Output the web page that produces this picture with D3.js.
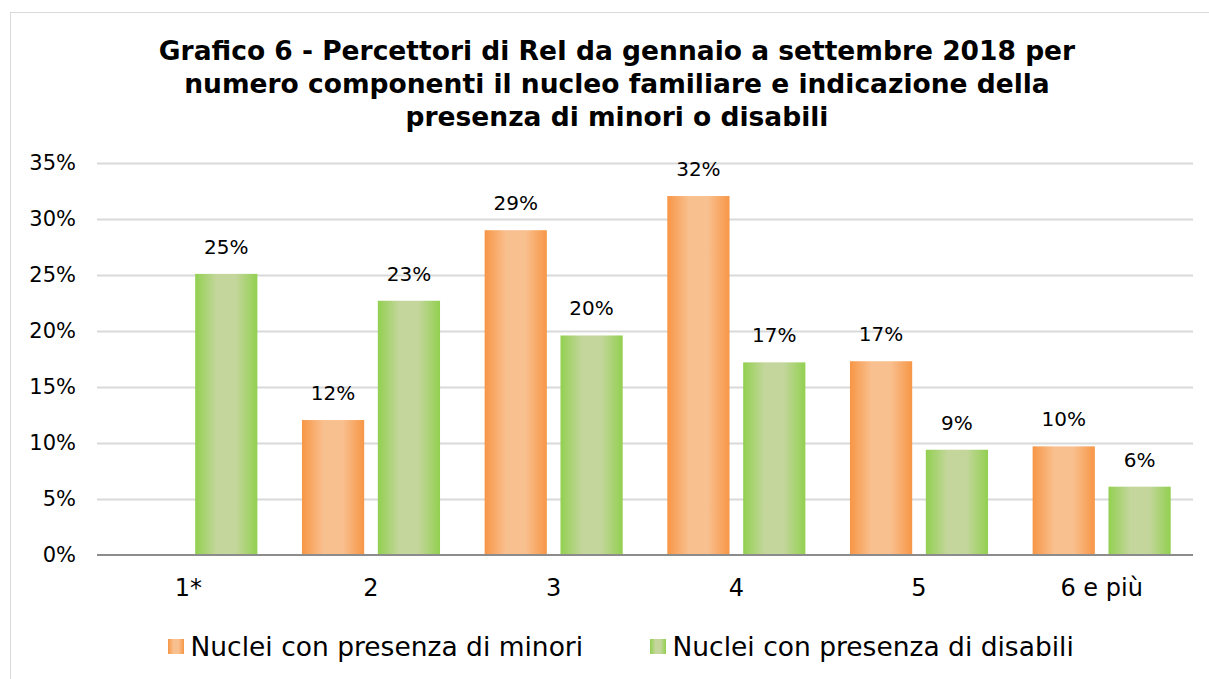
<!DOCTYPE html>
<html>
<head>
<meta charset="utf-8">
<script src="https://cdn.jsdelivr.net/npm/d3@7"></script>
<style>
  html, body { margin: 0; padding: 0; background: #fff; }
  svg { display: block; font-family: "DejaVu Sans", Verdana, sans-serif; }
</style>
</head>
<body>
<div id="chart"></div>
<script>
/* ---------- Data ---------- */
const categories = ["1*", "2", "3", "4", "5", "6 e più"];
const minori   = [null, 12.05, 29.0, 32.05, 17.3, 9.7];
const disabili = [25.1, 22.7, 19.6, 17.2, 9.4, 6.1];
const yTicks = [0, 5, 10, 15, 20, 25, 30, 35];
const seriesNames = ["Nuclei con presenza di minori", "Nuclei con presenza di disabili"];
const titleLines = [
  "Grafico 6 - Percettori di ReI da gennaio a settembre 2018 per",
  "numero componenti il nucleo familiare e indicazione della",
  "presenza di minori o disabili"
];

/* ---------- Setup ---------- */
const W = 1209, H = 679;
const plot = { left: 97, right: 1193, top: 163, bottom: 555 };

const svg = d3.select("#chart").append("svg")
  .attr("width", W).attr("height", H);

// gradients
const defs = svg.append("defs");
function addGrad(id, edge, mid) {
  const g = defs.append("linearGradient").attr("id", id)
    .attr("x1", "0%").attr("y1", "0%").attr("x2", "100%").attr("y2", "0%");
  g.append("stop").attr("offset", "0%").attr("stop-color", edge);
  g.append("stop").attr("offset", "35%").attr("stop-color", mid);
  g.append("stop").attr("offset", "65%").attr("stop-color", mid);
  g.append("stop").attr("offset", "100%").attr("stop-color", edge);
}
addGrad("gOrange", "#f79646", "#f9c08f");
addGrad("gGreen", "#92d050", "#c4d69c");
const fills = ["url(#gOrange)", "url(#gGreen)"];

// chart border
svg.append("rect")
  .attr("x", 10.5).attr("y", 12.5)
  .attr("width", W + 20).attr("height", H + 20)
  .attr("fill", "none").attr("stroke", "#d9d9d9").attr("stroke-width", 1);

// Title
svg.append("g").selectAll("text")
  .data(titleLines)
  .enter().append("text")
  .attr("x", 617)
  .attr("y", (d, i) => 60 + i * 33)
  .attr("text-anchor", "middle")
  .style("font-size", "26.5px")
  .style("font-weight", "bold")
  .style("fill", "#000")
  .text(d => d);

/* ---------- Scales ---------- */
const x0 = d3.scaleBand()
  .domain(categories)
  .range([plot.left, plot.right])
  .paddingInner(0).paddingOuter(0);

const x1 = d3.scaleBand()
  .domain([0, 1])
  .range([22.3, x0.bandwidth() - 22.3])
  .paddingInner(0.18);

const y = d3.scaleLinear()
  .domain([0, 35])
  .range([plot.bottom, plot.top]);

// Grid
svg.append("g")
  .attr("transform", `translate(${plot.left},0)`)
  .call(d3.axisLeft(y).tickValues(yTicks.slice(1)).tickSize(-(plot.right - plot.left)).tickFormat(""))
  .call(g => g.select(".domain").remove())
  .call(g => g.selectAll("line").attr("stroke", "#d9d9d9").attr("stroke-width", 2));

// Y axis labels
svg.append("g")
  .attr("transform", `translate(${plot.left},0)`)
  .call(d3.axisLeft(y).tickValues(yTicks).tickSize(0).tickPadding(21).tickFormat(d => d + "%"))
  .call(g => g.select(".domain").remove())
  .selectAll("text")
  .style("font-size", "21px")
  .style("font-family", "'DejaVu Sans', Verdana, sans-serif")
  .style("fill", "#000");

/* ---------- Bars ---------- */
const rows = categories.map((c, i) => ({ cat: c, vals: [minori[i], disabili[i]] }));

const groups = svg.append("g").selectAll("g")
  .data(rows)
  .enter().append("g")
  .attr("transform", d => `translate(${x0(d.cat)},0)`);

const cells = groups.selectAll("g")
  .data(d => d.vals.map((v, k) => ({ k, v })).filter(e => e.v != null))
  .enter().append("g");

cells.append("rect")
  .attr("x", d => x1(d.k))
  .attr("y", d => y(d.v))
  .attr("width", x1.bandwidth())
  .attr("height", d => plot.bottom - y(d.v))
  .attr("fill", d => fills[d.k]);

cells.append("text")
  .attr("x", d => x1(d.k) + x1.bandwidth() / 2)
  .attr("y", d => y(d.v) - 20)
  .attr("text-anchor", "middle")
  .style("font-size", "20px")
  .style("fill", "#000")
  .text(d => Math.round(d.v) + "%");

// X axis baseline
svg.append("line")
  .attr("x1", plot.left).attr("x2", plot.right)
  .attr("y1", plot.bottom).attr("y2", plot.bottom)
  .attr("stroke", "#8c8c8c").attr("stroke-width", 2);

// X axis labels
svg.append("g")
  .attr("transform", `translate(0,${plot.bottom})`)
  .call(d3.axisBottom(x0).tickSize(0).tickPadding(24))
  .call(g => g.select(".domain").remove())
  .selectAll("text")
  .style("font-size", "24px")
  .style("font-family", "'DejaVu Sans', Verdana, sans-serif")
  .style("fill", "#000");

/* ---------- Legend ---------- */
const legendX = [168, 650];
const legend = svg.append("g").selectAll("g")
  .data(seriesNames)
  .enter().append("g")
  .attr("transform", (d, i) => `translate(${legendX[i]},639)`);

legend.append("rect")
  .attr("width", 16).attr("height", 15)
  .attr("fill", (d, i) => fills[i]);

legend.append("text")
  .attr("x", 22.5)
  .attr("y", 17)
  .style("font-size", "26.5px")
  .style("fill", "#000")
  .text(d => d);
</script>
</body>
</html>
